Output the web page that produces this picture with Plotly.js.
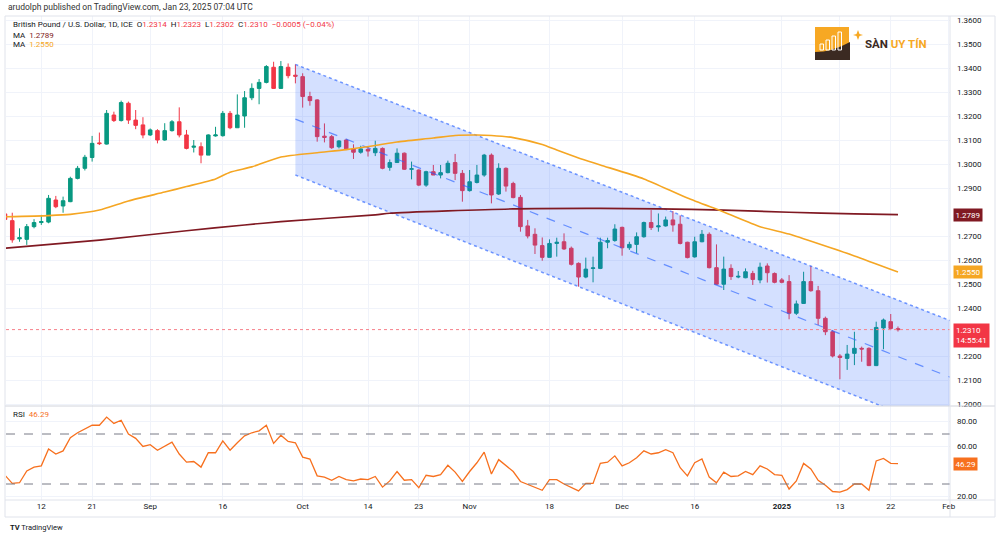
<!DOCTYPE html>
<html>
<head>
<meta charset="utf-8">
<script src="https://cdn.plot.ly/plotly-3.0.1.min.js"></script>
<style>html,body{margin:0;padding:0;background:#fff;}#chart{width:1000px;height:538px;}</style>
</head>
<body>
<div id="chart"></div>
<script>
// ---------- DATA ----------
const dates = [
"2024-08-05","2024-08-06","2024-08-07","2024-08-08","2024-08-09","2024-08-12","2024-08-13","2024-08-14","2024-08-15","2024-08-16",
"2024-08-19","2024-08-20","2024-08-21","2024-08-22","2024-08-23","2024-08-26","2024-08-27","2024-08-28","2024-08-29","2024-08-30",
"2024-09-02","2024-09-03","2024-09-04","2024-09-05","2024-09-06","2024-09-09","2024-09-10","2024-09-11","2024-09-12","2024-09-13",
"2024-09-16","2024-09-17","2024-09-18","2024-09-19","2024-09-20","2024-09-23","2024-09-24","2024-09-25","2024-09-26","2024-09-27",
"2024-09-30","2024-10-01","2024-10-02","2024-10-03","2024-10-04","2024-10-07","2024-10-08","2024-10-09","2024-10-10","2024-10-11",
"2024-10-14","2024-10-15","2024-10-16","2024-10-17","2024-10-18","2024-10-21","2024-10-22","2024-10-23","2024-10-24","2024-10-25",
"2024-10-28","2024-10-29","2024-10-30","2024-10-31","2024-11-01","2024-11-04","2024-11-05","2024-11-06","2024-11-07","2024-11-08",
"2024-11-11","2024-11-12","2024-11-13","2024-11-14","2024-11-15","2024-11-18","2024-11-19","2024-11-20","2024-11-21","2024-11-22",
"2024-11-25","2024-11-26","2024-11-27","2024-11-28","2024-11-29","2024-12-02","2024-12-03","2024-12-04","2024-12-05","2024-12-06",
"2024-12-09","2024-12-10","2024-12-11","2024-12-12","2024-12-13","2024-12-16","2024-12-17","2024-12-18","2024-12-19","2024-12-20",
"2024-12-23","2024-12-24","2024-12-25","2024-12-26","2024-12-27","2024-12-30","2024-12-31","2025-01-01","2025-01-02","2025-01-03",
"2025-01-06","2025-01-07","2025-01-08","2025-01-09","2025-01-10","2025-01-13","2025-01-14","2025-01-15","2025-01-16","2025-01-17",
"2025-01-20","2025-01-21","2025-01-22","2025-01-23"];

const opens = [
1.2792,1.2764,1.2688,1.2686,1.2739,1.2756,1.2758,1.2850,1.2825,1.2843,
1.2940,1.2982,1.3027,1.3088,1.3083,1.3204,1.3181,1.3253,1.3183,1.3163,
1.3121,1.3139,1.3100,1.3139,1.3176,1.3121,1.3070,1.3072,1.3037,1.3117,
1.3118,1.3211,1.3151,1.3200,1.3276,1.3315,1.3340,1.3403,1.3315,1.3403,
1.3370,1.3364,1.3281,1.3267,1.3116,1.3114,1.3072,1.3100,1.3063,1.3049,
1.3061,1.3047,1.3065,1.2986,1.3006,1.3045,1.2978,1.2975,1.2912,1.2968,
1.2954,1.2964,1.3006,1.2961,1.2889,1.2923,1.2954,1.3037,1.2875,1.2982,
1.2919,1.2861,1.2742,1.2707,1.2660,1.2611,1.2669,1.2676,1.2649,1.2586,
1.2529,1.2565,1.2565,1.2674,1.2681,1.2736,1.2651,1.2665,1.2697,1.2756,
1.2738,1.2742,1.2767,1.2749,1.2674,1.2613,1.2676,1.2707,1.2568,1.2499,
1.2565,1.2529,1.2526,1.2544,1.2517,1.2575,1.2544,1.2517,1.2510,1.2378,
1.2419,1.2510,1.2472,1.2357,1.2301,1.2200,1.2190,1.2211,1.2232,1.2232,
1.2160,1.2317,1.2343,1.2314];

const highs = [
1.2801,1.2797,1.2732,1.2750,1.2770,1.2788,1.2871,1.2867,1.2864,1.2947,
1.2992,1.3038,1.3117,1.3131,1.3225,1.3218,1.3264,1.3260,1.3225,1.3195,
1.3148,1.3145,1.3170,1.3183,1.3236,1.3142,1.3100,1.3090,1.3124,1.3155,
1.3221,1.3221,1.3290,1.3304,1.3336,1.3354,1.3412,1.3426,1.3429,1.3419,
1.3415,1.3378,1.3301,1.3270,1.3169,1.3121,1.3100,1.3103,1.3082,1.3076,
1.3072,1.3097,1.3069,1.3019,1.3065,1.3048,1.3010,1.2978,1.2972,1.2996,
1.2996,1.3014,1.3042,1.2975,1.2975,1.2996,1.3042,1.3044,1.3003,1.2986,
1.2926,1.2871,1.2767,1.2732,1.2694,1.2686,1.2693,1.2711,1.2656,1.2590,
1.2610,1.2614,1.2693,1.2693,1.2749,1.2739,1.2676,1.2715,1.2760,1.2808,
1.2794,1.2781,1.2804,1.2785,1.2676,1.2697,1.2725,1.2715,1.2665,1.2614,
1.2582,1.2554,1.2565,1.2555,1.2589,1.2586,1.2548,1.2525,1.2537,1.2431,
1.2551,1.2575,1.2492,1.2364,1.2308,1.2208,1.2246,1.2301,1.2239,1.2236,
1.2343,1.2356,1.2375,1.2323];

const lows = [
1.2764,1.2672,1.2676,1.2663,1.2732,1.2746,1.2753,1.2816,1.2797,1.2841,
1.2936,1.2973,1.3010,1.3079,1.3081,1.3175,1.3177,1.3167,1.3145,1.3107,
1.3117,1.3086,1.3097,1.3135,1.3111,1.3061,1.3048,1.3003,1.3037,1.3114,
1.3114,1.3145,1.3151,1.3151,1.3266,1.3249,1.3336,1.3313,1.3313,1.3357,
1.3336,1.3235,1.3243,1.3093,1.3090,1.3063,1.3065,1.3058,1.3021,1.3043,
1.3031,1.3033,1.2978,1.2972,1.3006,1.2975,1.2936,1.2908,1.2905,1.2954,
1.2940,1.2961,1.2933,1.2843,1.2885,1.2919,1.2947,1.2836,1.2871,1.2885,
1.2857,1.2718,1.2690,1.2625,1.2597,1.2611,1.2614,1.2642,1.2577,1.2489,
1.2524,1.2507,1.2562,1.2649,1.2676,1.2618,1.2642,1.2628,1.2693,1.2725,
1.2718,1.2739,1.2718,1.2665,1.2607,1.2610,1.2674,1.2565,1.2496,1.2475,
1.2517,1.2524,1.2524,1.2496,1.2503,1.2506,1.2503,1.2503,1.2353,1.2371,
1.2417,1.2468,1.2329,1.2287,1.2194,1.2103,1.2142,1.2162,1.2176,1.2158,
1.2158,1.2228,1.2308,1.2302];

const closes = [
1.2769,1.2684,1.2693,1.2739,1.2756,1.2760,1.2857,1.2822,1.2847,1.2940,
1.2982,1.3028,1.3086,1.3085,1.3211,1.3181,1.3256,1.3183,1.3161,1.3121,
1.3142,1.3100,1.3139,1.3176,1.3121,1.3065,1.3074,1.3037,1.3121,1.3121,
1.3211,1.3151,1.3204,1.3276,1.3315,1.3340,1.3406,1.3315,1.3406,1.3368,
1.3366,1.3281,1.3264,1.3114,1.3111,1.3068,1.3096,1.3063,1.3049,1.3063,
1.3054,1.3065,1.2982,1.3006,1.3045,1.2978,1.2980,1.2912,1.2968,1.2954,
1.2964,1.3003,1.2961,1.2889,1.2926,1.2954,1.3037,1.2871,1.2982,1.2908,
1.2860,1.2739,1.2700,1.2662,1.2611,1.2669,1.2674,1.2646,1.2582,1.2529,
1.2562,1.2567,1.2674,1.2681,1.2729,1.2651,1.2665,1.2697,1.2756,1.2735,
1.2742,1.2767,1.2746,1.2669,1.2610,1.2676,1.2707,1.2568,1.2499,1.2562,
1.2531,1.2532,1.2551,1.2519,1.2570,1.2547,1.2507,1.2507,1.2378,1.2417,
1.2510,1.2472,1.2357,1.2301,1.2200,1.2194,1.2208,1.2232,1.2229,1.2160,
1.2319,1.2350,1.2315,1.2310];

const rsi = [
37,30.5,31,40.5,43.5,44.5,58,54,56.5,67,
71,74,77,77,83.5,78.5,81,70,66.5,60,
61.5,57,60.5,63.5,54,47.5,48,43.5,55,55,
64.5,57,63,68.5,71,72.5,77,62.5,69,64,
63,51.5,50,36.5,35.5,33,36,33.5,32.5,34,
33.5,36,27.5,32.5,40,33,33.5,27,37,36,
37.5,45,39.5,32,40,47,55.5,38,49.5,44.5,
40,32,29.5,27.5,25,33.5,33.5,30,27,24.5,
30.5,30.5,46.5,47.5,52.5,44.5,47,51,56.5,54,
55,57.5,55,43,36.5,47,50,35.5,31,39.5,
36,36.5,40,37.5,44.5,42,37.5,37,26,32.5,
46.5,42,33,29,24,23.5,25.5,30,30,25,
48.5,50.5,46.5,46.29];

// Moving averages (read at sample dates)
const maFastDates = ["2024-08-05","2024-08-13","2024-08-16","2024-08-22","2024-08-28","2024-09-04","2024-09-09","2024-09-13","2024-09-17","2024-09-20",
"2024-09-26","2024-10-03","2024-10-09","2024-10-15","2024-10-18","2024-10-25","2024-10-30","2024-11-04","2024-11-06","2024-11-11",
"2024-11-15","2024-11-19","2024-11-22","2024-11-27","2024-12-05","2024-12-13","2024-12-20","2024-12-27","2025-01-02","2025-01-09","2025-01-15","2025-01-23"];
const maFast = [1.2780,1.2785,1.2790,1.2808,1.2846,1.2883,1.2906,1.2938,1.2966,1.2988,
1.3029,1.3047,1.3060,1.3077,1.3092,1.3108,1.3119,1.3121,1.3119,1.3110,
1.3081,1.3058,1.3025,1.2996,1.2938,1.2858,1.2800,1.2739,1.2708,1.2658,1.2617,1.2550];

const maSlowDates = ["2024-08-05","2024-08-22","2024-09-09","2024-09-19","2024-09-26","2024-10-15","2024-10-17","2024-11-11","2024-11-27","2024-12-09","2024-12-20","2025-01-02","2025-01-15","2025-01-23"];
const maSlow = [1.2649,1.2683,1.2722,1.2746,1.2760,1.2788,1.2795,1.2813,1.2815,1.2813,1.2808,1.2799,1.2792,1.2789];

// Regression channel (start / end)
const chanDates = ["2024-09-30","2025-02-04"];
const chanUpper = [1.3415,1.2338];
const chanMid   = [1.3187,1.2102];
const chanLower = [1.2954,1.1869];

const rsiLevels = [70,30];

const tickDates = ["2024-08-12","2024-08-21","2024-09-02","2024-09-16","2024-10-01","2024-10-14","2024-10-23","2024-11-01","2024-11-18","2024-12-02","2024-12-16","2025-01-01","2025-01-13","2025-01-22","2025-02-03"];
const tickLabels = ["12","21","Sep","16","Oct","14","23","Nov","18","Dec","16","<b>2025</b>","13","22","Feb"];

// ---------- STYLE / LAYOUT HELPERS ----------
const UP='#089981', DN='#f23645', ORANGE='#f5a623', MAROON='#801922', RSICOL='#f7701e', BLUE='rgba(41,98,255,0.65)';
const FONT='Roboto, "Liberation Sans", sans-serif';
const L=6, R=50, T=16, B=38, W=1000, H=538;
const PW=W-L-R, PH=H-T-B;
const X = px => (px-L)/PW;
const Y = py => (H-B-py)/PH;
const paneSplit = Y(406);
const PRICE_RANGE=[1.199167,1.361667], RSI_RANGE=[17.2,92.4];
const pxPerPrice = (406-T)/(PRICE_RANGE[1]-PRICE_RANGE[0]);
const pxPerRsi = (H-B-406)/(RSI_RANGE[1]-RSI_RANGE[0]);

const n = closes.length;
const last = n-1;
const chg = closes[last]-closes[last-1];
const pct = chg/closes[last-1]*100;
const fmt4 = v => v.toFixed(4);
const sgn = v => (v<0?'\u2212':'') + Math.abs(v).toFixed(4);
const maSlowLast = maSlow[maSlow.length-1], maFastLast = maFast[maFast.length-1];

// axis ticks, hiding labels that sit under the price-tag boxes (as TradingView does)
const priceTicks = [];
for (let k=0;k<=16;k++){
  const v = Math.round((1.20 + k*0.01)*100)/100;
  const dpx = val => Math.abs(v-val)*pxPerPrice;
  const underLast = (v - closes[last])*pxPerPrice < 11 && (closes[last] - v)*pxPerPrice < 19;
  if (dpx(maSlowLast) < 10 || dpx(maFastLast) < 10 || underLast) continue;
  priceTicks.push(v);
}
const rsiTicks = [20,40,60,80].filter(v => Math.abs(v-rsi[last])*pxPerRsi >= 10);

const traces = [
  {type:'scatter', mode:'lines', x:chanDates, y:chanLower, xaxis:'x', yaxis:'y',
   line:{color:BLUE, width:1.5, dash:'dot'}, hoverinfo:'skip', showlegend:false},
  {type:'scatter', mode:'lines', x:chanDates, y:chanUpper, xaxis:'x', yaxis:'y', fill:'tonexty',
   fillcolor:'rgba(41,98,255,0.2)', line:{color:BLUE, width:1.5, dash:'dot'}, hoverinfo:'skip', showlegend:false},
  {type:'scatter', mode:'lines', x:chanDates, y:chanMid, xaxis:'x', yaxis:'y',
   line:{color:BLUE, width:1.2, dash:'dash'}, hoverinfo:'skip', showlegend:false},
  {type:'scatter', mode:'lines', x:maSlowDates, y:maSlow, xaxis:'x', yaxis:'y', line:{color:MAROON, width:1.6, shape:'spline', smoothing:0.6}, hoverinfo:'skip', showlegend:false},
  {type:'scatter', mode:'lines', x:maFastDates, y:maFast, xaxis:'x', yaxis:'y', line:{color:ORANGE, width:1.6, shape:'spline', smoothing:0.6}, hoverinfo:'skip', showlegend:false},
  {type:'candlestick', x:dates, open:opens, high:highs, low:lows, close:closes, xaxis:'x', yaxis:'y',
   increasing:{line:{color:UP, width:1}, fillcolor:UP}, decreasing:{line:{color:DN, width:1}, fillcolor:DN},
   whiskerwidth:0, hoverinfo:'skip', showlegend:false},
  {type:'scatter', mode:'lines', x:dates, y:rsi, xaxis:'x', yaxis:'y2', line:{color:RSICOL, width:1.3}, hoverinfo:'skip', showlegend:false}
];

const shapes = [
  ...rsiLevels.map(v => ({type:'line', xref:'paper', yref:'y2', x0:0, x1:1, y0:v, y1:v, line:{color:'#787b86', width:1, dash:'dash'}})),
  {type:'line', xref:'paper', yref:'y', x0:0, x1:1, y0:closes[last], y1:closes[last], line:{color:'#f7818b', width:1, dash:'dot'}},
  {type:'line', xref:'paper', yref:'paper', x0:X(5), x1:X(995), y0:paneSplit, y1:paneSplit, line:{color:'#d1d4dc', width:1}},
  {type:'line', xref:'paper', yref:'paper', x0:1, x1:1, y0:Y(517), y1:Y(16), line:{color:'#e0e3eb', width:1}},
  {type:'rect', xref:'paper', yref:'paper', x0:X(5), x1:X(995), y0:Y(517), y1:Y(16), line:{color:'#e0e3eb', width:1}},
  {type:'line', xref:'paper', yref:'paper', x0:X(5), x1:X(995), y0:Y(500), y1:Y(500), line:{color:'#e0e3eb', width:1}},
  // logo icon
  {type:'rect', xref:'paper', yref:'paper', x0:X(815), x1:X(849), y0:Y(56), y1:Y(27), fillcolor:'#f7a823', line:{width:0}, layer:'above'},
  {type:'path', xref:'paper', yref:'paper', layer:'above', fillcolor:'#3b2a22', line:{width:0},
   path:`M ${X(815)},${Y(52)} Q ${X(832)},${Y(52)} ${X(850)},${Y(42)} L ${X(850)},${Y(60)} L ${X(815)},${Y(60)} Z`},
  ...[[820,44],[826,40],[832,36],[838,32]].map(b => ({type:'rect', xref:'paper', yref:'paper', layer:'above', x0:X(b[0]), x1:X(b[0]+3.5), y0:Y(50), y1:Y(b[1]), fillcolor:'rgba(255,255,255,0)', line:{color:'#fff', width:1}})),
  {type:'path', xref:'paper', yref:'paper', layer:'above', fillcolor:'#f7a823', line:{width:0},
   path:`M ${X(858)},${Y(30)} L ${X(859.5)},${Y(34)} L ${X(863)},${Y(35)} L ${X(859.5)},${Y(36)} L ${X(858)},${Y(40)} L ${X(856.5)},${Y(36)} L ${X(853)},${Y(35)} L ${X(856.5)},${Y(34)} Z`}
];

const dark='#131722';
const ann = (px, py, text, opts={}) => Object.assign({xref:'paper', yref:'paper', x:X(px), y:Y(py), text, showarrow:false,
  xanchor:'left', yanchor:'middle', font:{family:FONT, size:8, color:dark}}, opts);
const boxLabel = (yref, val, txt, bg, opts={}) => Object.assign({xref:'paper', yref, x:X(953), y:val, text:txt, showarrow:false,
  xanchor:'left', yanchor:'middle', bgcolor:bg, borderpad:1.5, font:{family:FONT, size:8, color:'#fff'}}, opts);

const red = s => `<span style="color:${DN}">${s}</span>`;
const annotations = [
  ann(6, 7, 'arudolph published on TradingView.com, Jan 23, 2025 07:04 UTC', {font:{family:FONT, size:8.5, color:'#333'}}),
  ann(11, 25, `British Pound / U.S. Dollar, 1D, ICE  O${red(fmt4(opens[last]))}  H${red(fmt4(highs[last]))}  L${red(fmt4(lows[last]))}  C${red(fmt4(closes[last]))}  ${red(sgn(chg)+' ('+(pct<0?'\u2212':'')+Math.abs(pct).toFixed(2)+'%)')}`),
  ann(11, 35, `MA  <span style="color:${MAROON}">${fmt4(maSlowLast)}</span>`),
  ann(11, 45, `MA  <span style="color:${ORANGE}">${fmt4(maFastLast)}</span>`),
  ann(11, 414, `RSI  <span style="color:${RSICOL}">${rsi[last].toFixed(2)}</span>`),
  ann(863, 44, '<b>SÀN <span style="color:#f7a823">UY TÍN</span></b>', {font:{family:FONT, size:11.5, color:'#3b2a22'}}),
  ann(8, 527, '<b>TV</b> TradingView', {font:{family:FONT, size:7.5, color:dark}}),
  boxLabel('y', maSlowLast, fmt4(maSlowLast), MAROON),
  boxLabel('y', maFastLast, fmt4(maFastLast), '#f5a623'),
  boxLabel('y', closes[last], fmt4(closes[last]) + '<br>14:55:41', DN, {yanchor:'top', yshift:7, align:'left', borderpad:2}),
  boxLabel('y2', rsi[last], rsi[last].toFixed(2), RSICOL)
];

const layout = {
  width:W, height:H, margin:{l:L, r:R, t:T, b:B},
  paper_bgcolor:'#fff', plot_bgcolor:'#fff', showlegend:false,
  font:{family:FONT, size:8, color:dark},
  xaxis:{type:'date', anchor:'y2', rangebreaks:[{bounds:['sat','mon']}],
    range:['2024-08-05 03:18','2025-02-03 03:58'], rangeslider:{visible:false},
    tickmode:'array', tickvals:tickDates, ticktext:tickLabels, ticks:'', showgrid:true, gridcolor:'#f0f3fa',
    zeroline:false, showline:false, tickfont:{family:FONT, size:8, color:dark}, fixedrange:true},
  yaxis:{domain:[paneSplit,1], side:'right', range:PRICE_RANGE, tickmode:'array', tickvals:priceTicks, tickformat:'.4f',
    ticks:'', showgrid:true, gridcolor:'#f0f3fa', zeroline:false, showline:false, ticklabelstandoff:6,
    tickfont:{family:FONT, size:8, color:dark}},
  yaxis2:{domain:[0,paneSplit], side:'right', range:RSI_RANGE, tickmode:'array', tickvals:rsiTicks, tickformat:'.2f',
    ticks:'', showgrid:true, gridcolor:'#f0f3fa', zeroline:false, showline:false, ticklabelstandoff:6,
    tickfont:{family:FONT, size:8, color:dark}},
  shapes, annotations
};

Plotly.newPlot('chart', traces, layout, {staticPlot:true, displayModeBar:false});
</script>
</body>
</html>
